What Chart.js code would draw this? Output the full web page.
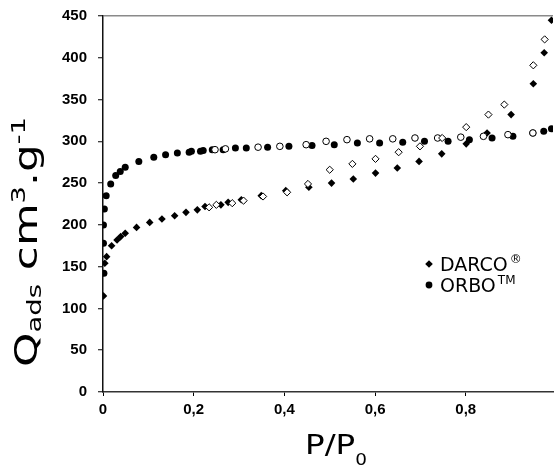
<!DOCTYPE html>
<html>
<head>
<meta charset="utf-8">
<script src="https://cdn.jsdelivr.net/npm/chart.js@4/dist/chart.umd.min.js"></script>
<style>
html,body{margin:0;padding:0;background:#fff;overflow:hidden;}
canvas{display:block;}
</style>
</head>
<body>
<canvas id="c" width="558" height="465"></canvas>
<script>
// ---- data ----
const seriesNames = ['DARCO', 'ORBO'];
const seriesMarks = ['®', 'TM'];
const xTickValues = [0, 0.2, 0.4, 0.6, 0.8];
const yTickValues = [0, 50, 100, 150, 200, 250, 300, 350, 400, 450];

const darcoAdsX = [0.001,0.004,0.008,0.019,0.031,0.039,0.049,0.074,0.103,0.130,0.158,0.183,0.208,0.225,0.260,0.276,0.305,0.349,0.403,0.454,0.504,0.552,0.601,0.649,0.697,0.747,0.801,0.847,0.900,0.949,0.973,0.989];
const darcoAdsY = [115,154,162,175,182,186,190,197,203,207,211,215,218,222,224,227,230,235,241,245,250,255,262,268,276,285,297,310,332,369,406,445];
const darcoDesX = [0.234,0.250,0.285,0.310,0.353,0.406,0.452,0.500,0.550,0.601,0.652,0.699,0.748,0.801,0.850,0.885,0.949,0.974];
const darcoDesY = [221,224,226,229,234,239,249,266,273,279,287,294,304,317,332,344,391,422];
const orboAdsX = [0.002,0.001,0.001,0.003,0.007,0.017,0.028,0.038,0.049,0.079,0.112,0.138,0.164,0.190,0.195,0.215,0.221,0.241,0.265,0.292,0.316,0.363,0.410,0.461,0.510,0.561,0.610,0.661,0.709,0.761,0.808,0.858,0.904,0.948,0.972,0.989];
const orboAdsY = [142,178,200,219,235,249,259,264,269,276,281,284,286,287,288,288,289,290,290,292,292,293,294,295,296,298,298,299,300,300,302,304,306,310,312,315];
const orboDesX = [0.247,0.270,0.342,0.390,0.448,0.492,0.538,0.588,0.639,0.688,0.738,0.789,0.839,0.893,0.948];
const orboDesY = [290,291,293,294,296,300,302,303,303,304,304,305,306,308,310];

const pts = (xs, ys) => xs.map((x, i) => ({x: x, y: ys[i]}));

const TITLE_FONT = '"DejaVu Sans", sans-serif';

function drawRich(ctx, parts, targetLen) {
  let w = 0;
  parts.forEach(p => { ctx.font = p.size + 'px ' + TITLE_FONT; p.w = ctx.measureText(p.t).width; w += p.w; });
  const sx = targetLen ? targetLen / w : 1;
  ctx.scale(sx, 1);
  let x = -w / 2;
  parts.forEach(p => {
    ctx.font = p.size + 'px ' + TITLE_FONT;
    ctx.fillText(p.t, x, p.dy);
    x += p.w;
  });
}

const decor = {
  id: 'decor',
  afterDraw(chart) {
    const ctx = chart.ctx;
    ctx.save();
    ctx.fillStyle = '#000';
    ctx.textBaseline = 'alphabetic';
    ctx.textAlign = 'left';
    // y axis title
    ctx.save();
    ctx.translate(37, 242);
    ctx.rotate(-Math.PI / 2);
    drawRich(ctx, [
      {t: 'Q', size: 32, dy: 0},
      {t: 'ads', size: 20, dy: 4},
      {t: ' cm', size: 32, dy: 0},
      {t: '3', size: 20, dy: -12},
      {t: '.g', size: 32, dy: 0},
      {t: '-1', size: 20, dy: -12}
    ], 250);
    ctx.restore();
    // x axis title
    ctx.save();
    ctx.translate(336, 454);
    drawRich(ctx, [
      {t: 'P/P', size: 26.5, dy: 0},
      {t: '0', size: 15, dy: 11}
    ], 62);
    ctx.restore();
    // legend
    const lx = 429, ly = [264, 285];
    ctx.beginPath();
    ctx.moveTo(lx, ly[0] - 3.8); ctx.lineTo(lx + 3.8, ly[0]); ctx.lineTo(lx, ly[0] + 3.8); ctx.lineTo(lx - 3.8, ly[0]); ctx.closePath();
    ctx.fill();
    ctx.beginPath();
    ctx.arc(lx, ly[1], 3.4, 0, Math.PI * 2);
    ctx.fill();
    for (let i = 0; i < seriesNames.length; i++) {
      ctx.font = '19px ' + TITLE_FONT;
      const base = ly[i] + 6.5;
      ctx.fillText(seriesNames[i], 440, base);
      const w = ctx.measureText(seriesNames[i]).width;
      ctx.font = '12px ' + TITLE_FONT;
      ctx.fillText(seriesMarks[i], 440 + w + 2, base - 8);
    }
    ctx.restore();
  }
};

new Chart(document.getElementById('c'), {
  type: 'scatter',
  data: {
    datasets: [
      {label: 'DARCO des', data: pts(darcoDesX, darcoDesY), pointStyle: 'rectRot', pointRadius: 3.6, backgroundColor: '#fff', borderColor: '#000', borderWidth: 1},
      {label: 'ORBO des', data: pts(orboDesX, orboDesY), pointStyle: 'circle', pointRadius: 3.3, backgroundColor: '#fff', borderColor: '#000', borderWidth: 1},
      {label: 'DARCO ads', data: pts(darcoAdsX, darcoAdsY), pointStyle: 'rectRot', pointRadius: 3.8, backgroundColor: '#000', borderColor: '#000', borderWidth: 0},
      {label: 'ORBO ads', data: pts(orboAdsX, orboAdsY), pointStyle: 'circle', pointRadius: 3.5, backgroundColor: '#000', borderColor: '#000', borderWidth: 0}
    ]
  },
  options: {
    responsive: false,
    animation: false,
    devicePixelRatio: 1,
    layout: {padding: {top: 16, right: 0, left: 0, bottom: 0}},
    plugins: {legend: {display: false}, tooltip: {enabled: false}},
    scales: {
      x: {
        type: 'linear', min: 0, max: 0.9924,
        afterBuildTicks: s => { s.ticks = xTickValues.map(v => ({value: v})); },
        afterFit: s => { s.height = 73; s.paddingLeft = 0; s.paddingRight = 0; },
        ticks: {
          color: '#000', padding: 4.5, maxRotation: 0,
          font: {family: '"Liberation Sans", Arial, sans-serif', weight: 'bold', size: 15},
          callback: v => String(Math.round(v * 10) / 10).replace('.', ',')
        },
        grid: {drawOnChartArea: false, tickLength: 4, tickColor: '#000', tickWidth: 1},
        border: {color: '#333', width: 1.5}
      },
      y: {
        type: 'linear', min: 0, max: 450,
        afterBuildTicks: s => { s.ticks = yTickValues.map(v => ({value: v})); },
        afterFit: s => { s.width = 103; s.paddingTop = 0; s.paddingBottom = 0; },
        ticks: {
          color: '#000', padding: 11,
          font: {family: '"Liberation Sans", Arial, sans-serif', weight: 'bold', size: 15}
        },
        grid: {
          drawOnChartArea: true, tickLength: 5, tickColor: '#000', tickWidth: 1,
          color: c => (c.tick && c.tick.value === 450) ? '#8a8a8a' : 'rgba(0,0,0,0)',
          lineWidth: 1.5
        },
        border: {color: '#111', width: 1.5}
      }
    }
  },
  plugins: [decor]
});
</script>
</body>
</html>
